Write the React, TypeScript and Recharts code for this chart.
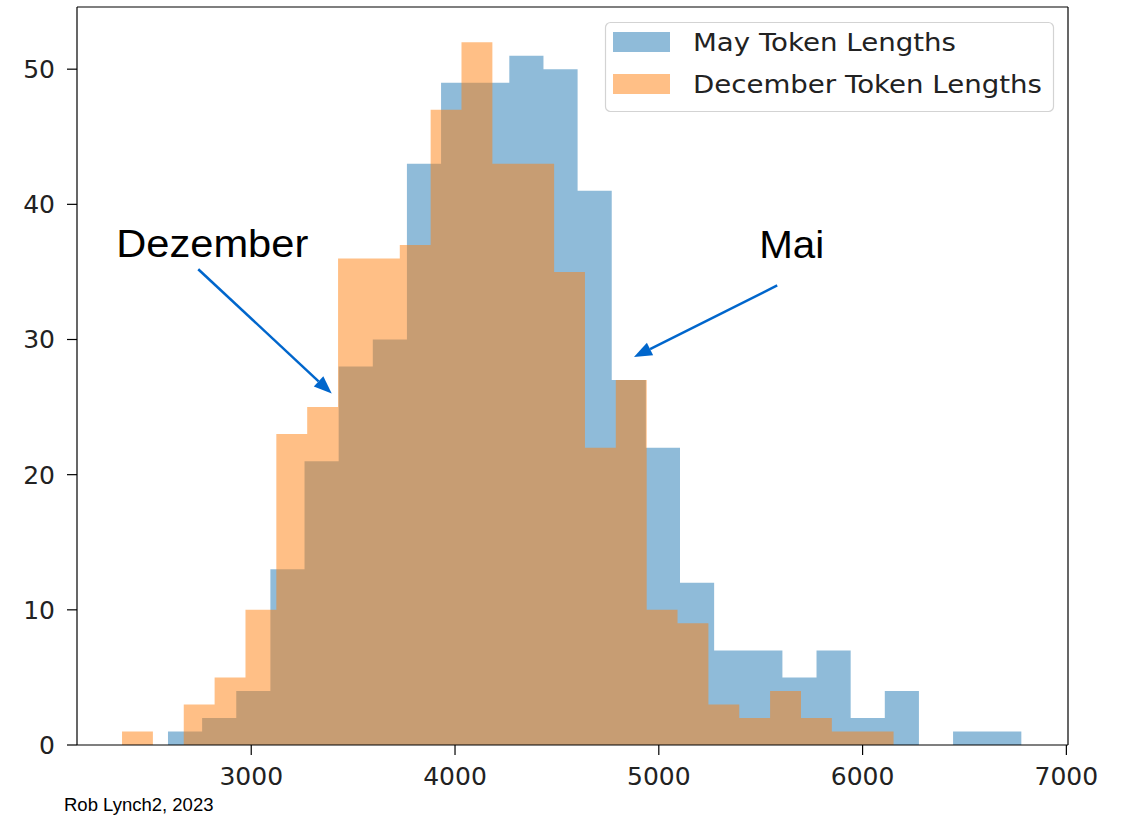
import React from 'react';
import { ComposedChart, Area, XAxis, YAxis, ReferenceLine } from 'recharts';

// Bin edges (token length) and counts
const mayEdges = [2591.5, 2759, 2926.5, 3094, 3261.5, 3429, 3596.5, 3764, 3931.5, 4099, 4266.5, 4434, 4601.5, 4769, 4936.5, 5104, 5271.5, 5439, 5606.5, 5774, 5941.5, 6109, 6276.5, 6444, 6611.5, 6779];
const mayCounts = [1, 2, 4, 13, 21, 28, 30, 43, 49, 49, 51, 50, 41, 27, 22, 12, 7, 7, 5, 7, 2, 4, 0, 1, 1];
const decEdges = [2366, 2517.4, 2668.9, 2820.3, 2971.8, 3123.2, 3274.6, 3426.1, 3577.5, 3729, 3880.4, 4031.8, 4183.3, 4334.7, 4486.2, 4637.6, 4789, 4940.5, 5091.9, 5243.4, 5394.8, 5546.2, 5697.7, 5849.1, 6000.6, 6152];
const decCounts = [1, 0, 3, 5, 10, 23, 25, 36, 36, 37, 47, 52, 43, 43, 35, 22, 27, 10, 9, 3, 2, 4, 2, 1, 1];

const seriesNames = ['May Token Lengths', 'December Token Lengths'];
const seriesColors = ['#1f77b4', '#ff7f0e'];
const xTicks = [3000, 4000, 5000, 6000, 7000];
const yTicks = [0, 10, 20, 30, 40, 50];
const xDomain = [2145, 7008];
const yDomain = [0, 54.6];
const annotations = [
  { label: 'Dezember', from: { x: 2740, y: 35.2 }, to: { x: 3395, y: 26.0 }, dx: -82, dy: -12, len: 192 },
  { label: 'Mai', from: { x: 5581, y: 34.0 }, to: { x: 4878, y: 28.7 }, dx: -18, dy: -27, len: 65 },
];
const credit = 'Rob Lynch2, 2023';

function countAt(edges: number[], counts: number[], x: number) {
  for (let i = 0; i < counts.length; i++) {
    if (x >= edges[i] && x < edges[i + 1]) return counts[i];
  }
  return 0;
}

const allX = Array.from(new Set([...mayEdges, ...decEdges])).sort((a, b) => a - b);
const rows = allX.map((x) => ({
  x,
  may: countAt(mayEdges, mayCounts, x),
  dec: countAt(decEdges, decCounts, x),
}));

const FONT = '"DejaVu Sans", sans-serif';
const ARROW = '#0066CC';

function makeArrow(label: string, dx: number, dy: number, len: number) {
  return (props: any) => {
    const { x1, y1, x2, y2 } = props;
    const ang = Math.atan2(y2 - y1, x2 - x1);
    const L = 18;
    const W = 7;
    const bx = x2 - L * Math.cos(ang);
    const by = y2 - L * Math.sin(ang);
    const px = -Math.sin(ang) * W;
    const py = Math.cos(ang) * W;
    return (
      <g>
        <line x1={x1} y1={y1} x2={bx} y2={by} stroke={ARROW} strokeWidth={2.5} />
        <polygon points={`${x2},${y2} ${bx + px},${by + py} ${bx - px},${by - py}`} fill={ARROW} />
        <text
          x={x1 + dx}
          y={y1 + dy}
          fontFamily='"Liberation Sans", Arial, sans-serif'
          fontSize={38}
          fill="#000"
          textLength={len}
          lengthAdjust="spacingAndGlyphs"
        >
          {label}
        </text>
      </g>
    );
  };
}

export default function App() {
  const tickStyle = { fill: '#222', fontSize: 25, fontFamily: FONT };
  return (
    <div style={{ position: 'absolute', left: 0, top: 0, width: 1127, height: 816, background: '#fff' }}>
      <ComposedChart width={1127} height={816} data={rows} margin={{ top: 7, right: 59, left: 17, bottom: 41 }}>
        <XAxis
          dataKey="x"
          type="number"
          domain={xDomain}
          ticks={xTicks}
          allowDataOverflow
          height={30}
          tickSize={10}
          tickMargin={12}
          tick={tickStyle}
          axisLine={{ stroke: '#000', strokeWidth: 1.2 }}
          tickLine={{ stroke: '#000', strokeWidth: 1.2 }}
        />
        <YAxis
          type="number"
          domain={yDomain}
          ticks={yTicks}
          allowDataOverflow
          width={60}
          tickSize={10}
          tickMargin={12}
          tick={tickStyle}
          axisLine={{ stroke: '#000', strokeWidth: 1.2 }}
          tickLine={{ stroke: '#000', strokeWidth: 1.2 }}
        />
        <Area type="stepAfter" dataKey="may" name={seriesNames[0]} stroke="none" fill={seriesColors[0]} fillOpacity={0.5} isAnimationActive={false} dot={false} activeDot={false} />
        <Area type="stepAfter" dataKey="dec" name={seriesNames[1]} stroke="none" fill={seriesColors[1]} fillOpacity={0.5} isAnimationActive={false} dot={false} activeDot={false} />
        <ReferenceLine y={yDomain[1]} stroke="#000" strokeWidth={1.2} ifOverflow="visible" />
        <ReferenceLine x={xDomain[1]} stroke="#000" strokeWidth={1.2} ifOverflow="visible" />
        {annotations.map((a) => (
          <ReferenceLine
            key={a.label}
            segment={[a.from, a.to]}
            ifOverflow="visible"
            shape={makeArrow(a.label, a.dx, a.dy, a.len)}
          />
        ))}
      </ComposedChart>
      <svg width={1127} height={816} style={{ position: 'absolute', left: 0, top: 0, pointerEvents: 'none' }}>
        <rect x={605.5} y={22.5} width={448} height={89} rx={5} ry={5} fill="#fff" fillOpacity={0.8} stroke="#d3d3d3" strokeWidth={1.2} />
        <rect x={613} y={32} width={57} height={20} fill={seriesColors[0]} fillOpacity={0.5} />
        <rect x={613} y={74} width={57} height={20} fill={seriesColors[1]} fillOpacity={0.5} />
        <text x={693} y={51} fontFamily={FONT} fontSize={25} fill="#222" textLength={263} lengthAdjust="spacingAndGlyphs">{seriesNames[0]}</text>
        <text x={693} y={93} fontFamily={FONT} fontSize={25} fill="#222" textLength={349} lengthAdjust="spacingAndGlyphs">{seriesNames[1]}</text>
        <text x={64} y={811} fontFamily='"Liberation Sans", Arial, sans-serif' fontSize={18.5} fill="#000">{credit}</text>
      </svg>
    </div>
  );
}
